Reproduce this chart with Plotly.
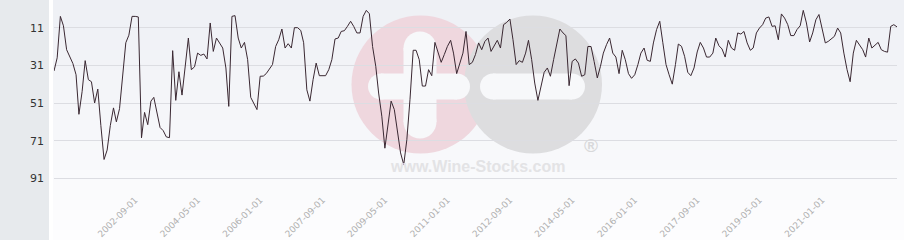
import pandas as pd
import plotly.graph_objects as go

# ---------------- data ----------------
start_month = "2000-07-01"
ranks = [
    # 2000-07 ...
    34, 27, 5, 10, 22.7, 26, 30, 36, 57, 45,
    28.5, 38.6, 39.7, 51, 43.6, 63, 81, 76, 63,
    53.6, 61, 54, 35, 19, 15, 5, 5, 5.3, 69.5,
    56, 62.5, 50, 48, 56, 64, 65.7, 69, 69.4, 23.2,
    49.6, 34.4, 46.8, 32.4, 16.5, 33.3, 31.8,
    24.5, 25.7, 25, 27.6, 8.5, 23.6, 16.5, 19, 21.8, 32.4,
    52.8, 5, 4.6, 16.5, 21.8, 18.8, 28, 48, 51, 54.5,
    36.8, 36.7, 35.4, 32.8, 30.6, 21, 17.4, 11.7, 21.8, 19.5,
    21.8, 11, 11, 12.5,
    # region B
    19, 44, 50, 38.6, 29.8, 36.5, 36.5, 36.5, 33.3, 28,
    17, 16.5, 13, 12.6, 10.3, 7.6, 10.3, 13.8, 13.8, 5,
    1.8, 3.6, 21, 31.5, 45.7, 58, 75, 61.6, 50, 54.5,
    67, 77.5, 83.7, 70.5, 49, 23, 23, 28, 42, 42,
    33.3, 36.5, 18.8, 24.5, 29.4, 25.3, 20.9, 17.7, 24.5, 35.4,
    30.6, 24.5, 13, 30.6, 29.4, 25.3, 19.1, 22.7, 18.3, 16.5,
    23.6, 20.9, 17.7, 21.8, 9.4, 8.2, 6.4, 17.4, 30.6, 28.5,
    29.4, 24.5, 17.7, 28, 40.4, 49.6, 42, 34.7, 32.4, 36.8,
    28, 20, 11.7, 13.8, 15.2, 41.8, 28.9, 27.6, 29.8, 36.8,
    36, 21, 21, 28.9, 37.7,
    # region C
    31.5, 24.5, 20, 16.5, 24.5, 26.6, 35.4, 23, 28, 35.4,
    37.9, 36, 30.6, 24.5, 21.8, 28.3, 28.9, 19.1, 12, 7.6,
    19, 30.6, 36, 41, 30.6, 19.7, 20.9, 26.2, 34.7, 36.5,
    32.4, 23.9, 18.8, 21.8, 26.6, 26.6, 24.5, 16.5, 20.6, 22.3,
    26.6, 17.7, 21.8, 23, 13.8, 14.4, 13, 19.1, 23, 21.8,
    13.8, 11.2, 9.4, 5.9, 5.3, 10.3, 10, 17.4, 3.7, 5.9,
    9.4, 15.2, 15.2, 12, 10, 1.8, 8.5, 18.6, 13.8, 6.8,
    4, 12, 19.1, 18.3, 17, 15.6, 11.2, 13.8, 24.5, 33.3,
    39.7, 24.5, 17.7, 20, 22.7, 26.6, 16.5, 21.8, 20, 18.8,
    22.7, 23.6, 24, 10.3, 9.4, 10.6,
]
dates = pd.date_range(start_month, periods=len(ranks), freq="MS")

x_tick_labels = ["2002-09-01", "2004-05-01", "2006-01-01", "2007-09-01",
                 "2009-05-01", "2011-01-01", "2012-09-01", "2014-05-01",
                 "2016-01-01", "2017-09-01", "2019-05-01", "2021-01-01"]
y_ticks = [11, 31, 51, 71, 91]

# ---------------- layout geometry ----------------
W, H = 904, 240
L, R, T, B = 54, 7, 0, 50
PW, PH = W - L - R, H - T - B


def px(x):
    return (x - L) / PW


def py(y):
    return 1 - (y - T) / PH


shapes = []
# left grey panel
shapes.append(dict(type="rect", xref="paper", yref="paper", layer="below",
                   x0=px(0), x1=px(49), y0=py(H), y1=py(0),
                   fillcolor="#e7eaed", line=dict(width=0)))
# vertical gradient background
nb = 24
c0 = (238, 240, 245)
c1 = (253, 253, 254)
for k in range(nb):
    t = k / (nb - 1)
    col = tuple(round(c0[j] + (c1[j] - c0[j]) * t) for j in range(3))
    ya = k * H / nb
    yb = (k + 1) * H / nb + 0.6
    shapes.append(dict(type="rect", xref="paper", yref="paper", layer="below",
                       x0=px(53), x1=px(W), y0=py(yb), y1=py(ya),
                       fillcolor="rgb(%d,%d,%d)" % col, line=dict(width=0)))


def circle(cx, cy, r, color):
    return dict(type="circle", xref="paper", yref="paper", layer="below",
                x0=px(cx - r), x1=px(cx + r), y0=py(cy + r), y1=py(cy - r),
                fillcolor=color, line=dict(width=0))


def pill(x0, x1, y0, y1, color):
    out = []
    if (x1 - x0) >= (y1 - y0):
        r = (y1 - y0) / 2
        out.append(dict(type="rect", xref="paper", yref="paper", layer="below",
                        x0=px(x0 + r), x1=px(x1 - r), y0=py(y1), y1=py(y0),
                        fillcolor=color, line=dict(width=0)))
        out.append(circle(x0 + r, (y0 + y1) / 2, r, color))
        out.append(circle(x1 - r, (y0 + y1) / 2, r, color))
    else:
        r = (x1 - x0) / 2
        out.append(dict(type="rect", xref="paper", yref="paper", layer="below",
                        x0=px(x0), x1=px(x1), y0=py(y1 - r), y1=py(y0 + r),
                        fillcolor=color, line=dict(width=0)))
        out.append(circle((x0 + x1) / 2, y0 + r, r, color))
        out.append(circle((x0 + x1) / 2, y1 - r, r, color))
    return out


# watermark logo
shapes.append(circle(420.5, 84.5, 69, "#efd7de"))
shapes.append(circle(533, 84.5, 69, "#dddddf"))
white = "#f7f8fa"
shapes += pill(403.5, 436.5, 31.5, 138.5, white)
shapes += pill(368, 470, 73.5, 99.5, white)
shapes += pill(480, 585, 73.5, 99.5, white)

annotations = [
    dict(xref="paper", yref="paper", x=px(477.5), y=py(166), text="www.Wine-Stocks.com",
         showarrow=False, font=dict(family="Liberation Sans", size=16, color="#e3e3e5"),
         xanchor="center", yanchor="middle"),
    dict(xref="paper", yref="paper", x=px(590.5), y=py(145), text="®",
         showarrow=False, font=dict(family="Liberation Sans", size=19, color="#d8d8da"),
         xanchor="center", yanchor="middle"),
]
annotations[0]["text"] = "<b>www.Wine-Stocks.com</b>"
annotations[1]["text"] = "<b>®</b>"

fig = go.Figure()
fig.add_trace(go.Scatter(x=dates, y=ranks, mode="lines",
                         line=dict(color="#3a2832", width=1), hoverinfo="skip"))

fig.update_layout(
    width=W, height=H,
    margin=dict(l=L, r=R, t=T, b=B, pad=0),
    paper_bgcolor="white",
    plot_bgcolor="rgba(0,0,0,0)",
    showlegend=False,
    shapes=shapes,
    annotations=annotations,
    xaxis=dict(
        type="date",
        tickvals=x_tick_labels, ticktext=x_tick_labels,
        tickangle=-45,
        tickfont=dict(family="DejaVu Sans", size=9, color="#b0b0b0"),
        showgrid=False, zeroline=False, showline=False,
        ticks="", ticklabelstandoff=2,
    ),
    yaxis=dict(
        range=[97.2, -3.7],
        tickvals=y_ticks,
        tickfont=dict(family="DejaVu Sans", size=11, color="#333333"),
        showgrid=True, gridcolor="#dcdde2", gridwidth=1,
        zeroline=False, showline=False, ticks="",
        ticklabelstandoff=9,
    ),
)

fig.write_html("out.html", config={"displayModeBar": False})
